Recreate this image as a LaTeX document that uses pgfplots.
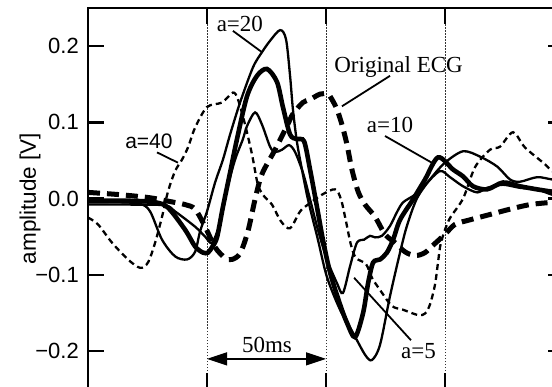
\documentclass[border=0pt]{standalone}
\usepackage{fontspec}
\setmainfont{Liberation Sans}
\newfontfamily\serifont{Liberation Serif}
\usepackage{pgfplots}
\pgfplotsset{compat=1.18}
\usetikzlibrary{arrows.meta}

\begin{document}
\begin{tikzpicture}[x=1pt,y=1pt]
\useasboundingbox (0,0) rectangle (552,386);
\begin{axis}[
  at={(88pt,-3pt)}, anchor=south west,
  scale only axis, width=476pt, height=381pt,
  xmin=0, xmax=200, ymin=-0.25, ymax=0.25,
  xtick={0,50,100,150,200}, xticklabels={},
  ytick={-0.2,-0.1,0,0.1,0.2},
  yticklabels={−0.2,−0.1,0.0,0.1,0.2},
  tick align=inside,
  major tick length=16pt,
  axis line style={line width=2.4pt},
  major tick style={line width=2.4pt, black},
  yticklabel style={font=\fontsize{22}{26}\selectfont, inner sep=0pt, xshift=-9pt},
  xmajorgrids,
  major grid style={dash pattern=on 1.5pt off 1.5pt, line width=0.9pt, black!80},
  clip=false,
]
% Original ECG
\addplot[black, line width=5pt, dash pattern=on 12pt off 7pt, smooth] coordinates {
(0,0.008) (13.5,0.005) (26,0.001) (34.5,-0.004) (40.8,-0.008) (45,-0.014) (49.2,-0.037) (53.4,-0.064) (57.6,-0.078) (60.5,-0.080) (63.9,-0.072) (67.2,-0.043) (70.2,-0.001) (73.1,0.032) (78.6,0.064) (83.6,0.095) (86.1,0.111) (90.3,0.126) (93.3,0.130) (97.5,0.137) (100.8,0.137) (102.5,0.130) (104.6,0.117) (106.7,0.097) (108.8,0.071) (110.9,0.038) (113.5,0.009) (116.4,-0.008) (120.6,-0.024) (124.8,-0.047) (129,-0.058) (133.2,-0.070) (137.4,-0.075) (141.6,-0.071) (145.8,-0.059) (150,-0.047) (154.2,-0.034) (160.5,-0.028) (168.9,-0.021) (177.3,-0.014) (185.7,-0.008) (195,-0.005) (200,-0.004)
};
% a=40
\addplot[black, line width=2.3pt, dash pattern=on 6pt off 4pt, smooth] coordinates {
(0,-0.025) (4.2,-0.034) (10.1,-0.058) (16.8,-0.080) (21.9,-0.091) (25.2,-0.084) (28.2,-0.058) (31.1,-0.024) (33.6,0.009) (36.6,0.036) (39.5,0.051) (42,0.067) (45,0.093) (50,0.120) (56.3,0.126) (60.9,0.139) (63,0.130) (66,0.097) (68.9,0.058) (71.4,0.018) (74,0.003) (77.3,-0.008) (81.1,-0.030) (84.9,-0.039) (89.1,-0.017) (92.4,-0.008) (98.3,0.005) (103.8,0.012) (106.3,-0.001) (108.4,-0.030) (110.5,-0.061) (112.6,-0.078) (116.8,-0.086) (119.3,-0.104) (122.7,-0.120) (127.7,-0.141) (132.4,-0.146) (138.7,-0.153) (141.6,-0.151) (143.7,-0.139) (145.8,-0.113) (147.1,-0.083) (148.3,-0.058) (151.7,-0.028) (157.6,0) (162.6,0.041) (168.9,0.064) (173.1,0.068) (178.6,0.087) (183.6,0.067) (192,0.045) (195,0.036) (200,0.030)
};
% a=20 (thin, highest peak)
\addplot[black, line width=2.3pt, smooth] coordinates {
(0,-0.005) (13.5,-0.005) (21.9,-0.007) (26.1,-0.017) (31.1,-0.054) (36.6,-0.076) (41.6,-0.080) (45,-0.070) (47.1,-0.043) (50,-0.017) (53.4,0.021) (56.7,0.051) (59.7,0.084) (63.9,0.126) (69.3,0.172) (73.1,0.192) (76.5,0.207) (80.7,0.221) (83.2,0.209) (84.9,0.161) (86.1,0.117) (87.8,0.074) (89.9,0.038) (92.4,-0.001) (96.6,-0.054) (100.4,-0.103) (105.9,-0.146) (111.3,-0.176) (116.4,-0.205) (119.3,-0.212) (122.7,-0.192) (126.9,-0.128) (131.1,-0.071) (134,-0.036) (138.2,0) (143.7,0.025) (150,0.047) (157.6,0.062) (164.7,0.055) (171.9,0.042) (177.3,0.025) (181.5,0.022) (188.7,0.028) (195,0.025) (200,0.024)
};
% thick solid
\addplot[black, line width=4.6pt, smooth] coordinates {
(0,-0.003) (17.7,-0.003) (28.2,-0.005) (33.6,-0.012) (40.8,-0.041) (45,-0.063) (48.3,-0.071) (50.4,-0.071) (52.1,-0.064) (54.2,-0.051) (56.7,-0.011) (59.7,0.034) (62.6,0.078) (66.8,0.134) (71,0.161) (75.2,0.170) (79.4,0.153) (81.9,0.120) (84.9,0.084) (87.8,0.078) (90.8,0.075) (93.3,0.038) (96.2,-0.011) (98.7,-0.054) (101.7,-0.097) (105.9,-0.139) (108.8,-0.163) (112.2,-0.182) (115.6,-0.150) (117.7,-0.111) (119.8,-0.084) (122.7,-0.080) (125.6,-0.071) (128.2,-0.054) (131.1,-0.028) (136.6,-0.001) (141.6,0.025) (147.1,0.054) (153.4,0.038) (157.6,0.029) (161.8,0.016) (167.7,0.012) (174.4,0.021) (181.5,0.016) (188.7,0.012) (195,0.009) (200,0.008)
};
% thin, lower peak
\addplot[black, line width=2.3pt, smooth] coordinates {
(0,-0.008) (17.7,-0.008) (32.4,-0.009) (36.6,-0.017) (45,-0.037) (49.2,-0.050) (52.1,-0.058) (55.5,-0.032) (58.4,0.012) (61.8,0.051) (65.1,0.078) (66.8,0.095) (70.2,0.113) (73.1,0.097) (76.5,0.068) (78.6,0.061) (81.5,0.064) (84.5,0.070) (87,0.061) (90.3,0.034) (93.3,-0.001) (96.6,-0.041) (100.4,-0.080) (104.6,-0.111) (107.1,-0.124) (110.1,-0.089) (113,-0.058) (116,-0.054) (118.5,-0.049) (120.6,-0.051) (123.5,-0.049) (126.9,-0.036) (129.8,-0.018) (132.4,-0.005) (137.4,0.005) (141.6,0.018) (147.9,0.036) (152.1,0.028) (157.6,0.016) (163.5,0.008) (167.7,0.014) (174.4,0.018) (181.5,0.014) (188.7,0.012) (195,0.005) (200,0.004)
};
% labels
\node[anchor=base, inner sep=0, font=\serifont\fontsize{23}{27}\selectfont] at (axis cs:63.8,0.2197) {a=20};
\draw[line width=1.8pt] (axis cs:60.9,0.220) -- (axis cs:73.1,0.192);
\node[anchor=base, inner sep=0, font=\serifont\fontsize{23}{27}\selectfont] at (axis cs:130.5,0.1658) {Original ECG};
\draw[line width=1.8pt] (axis cs:126.9,0.161) -- (axis cs:106.7,0.121);
\node[anchor=base, inner sep=0, font=\serifont\fontsize{23}{27}\selectfont] at (axis cs:126.9,0.0868) {a=10};
\draw[line width=1.8pt] (axis cs:124.8,0.082) -- (axis cs:145.0,0.046);
\node[anchor=base, inner sep=0, font=\serifont\fontsize{23}{27}\selectfont] at (axis cs:138.9,-0.2105) {a=5};
\draw[line width=1.8pt] (axis cs:111.8,-0.104) -- (axis cs:135.7,-0.186);
\node[anchor=base, inner sep=0, font=\fontsize{21}{25}\selectfont] at (axis cs:25.6,0.0658) {a=40};
\draw[line width=1.8pt] (axis cs:29.0,0.0605) -- (axis cs:37.8,0.047);
\node[anchor=base, inner sep=0, font=\serifont\fontsize{23}{27}\selectfont] at (axis cs:75.2,-0.2026) {50ms};
\draw[line width=1.2pt, {Triangle[length=20pt,width=13pt]}-{Triangle[length=20pt,width=13pt]}] (axis cs:50,-0.2105) -- (axis cs:100,-0.2105);
\end{axis}
\node[rotate=90, inner sep=0, font=\fontsize{22.5}{26}\selectfont] at (30,187.5) {amplitude [V]};
\end{tikzpicture}
\end{document}
